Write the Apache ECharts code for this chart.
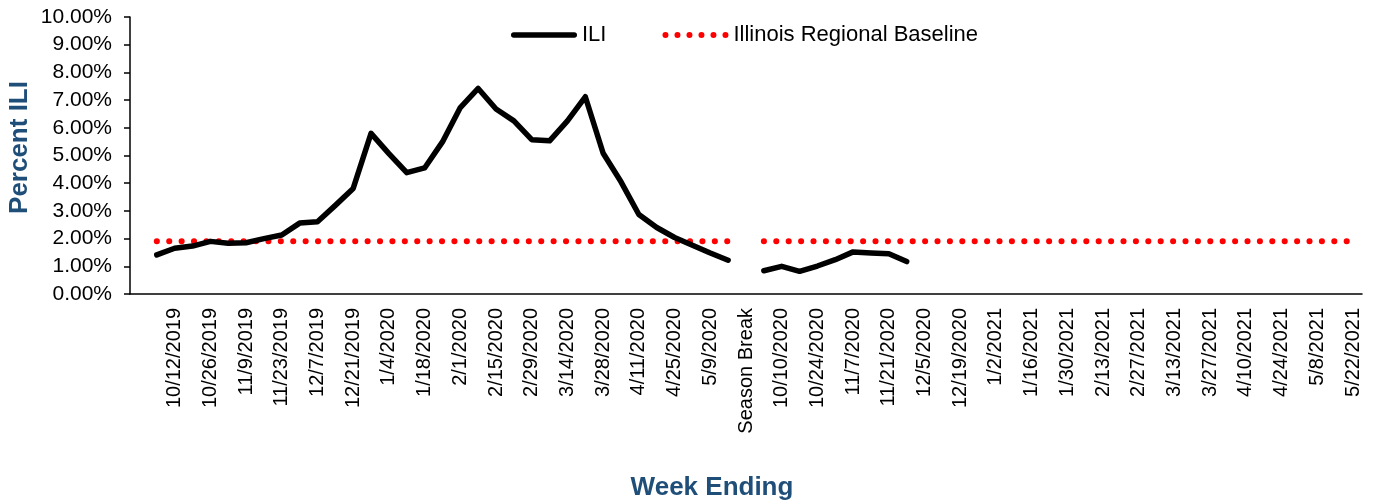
<!DOCTYPE html>
<html>
<head>
<meta charset="utf-8">
<title>Percent ILI</title>
<script src="https://cdn.jsdelivr.net/npm/echarts@6/dist/echarts.min.js"></script>
<style>
  html, body { margin: 0; padding: 0; background: #fff; }
  #chart { width: 1377px; height: 501px; }
</style>
</head>
<body>
<div id="chart"></div>
<script>
// week ending dates, first slot is an empty spacer category
const weeks = [
  '',
  '10/5/2019', '10/12/2019', '10/19/2019', '10/26/2019', '11/2/2019', '11/9/2019', '11/16/2019',
  '11/23/2019', '11/30/2019', '12/7/2019', '12/14/2019', '12/21/2019', '12/28/2019', '1/4/2020',
  '1/11/2020', '1/18/2020', '1/25/2020', '2/1/2020', '2/8/2020', '2/15/2020', '2/22/2020',
  '2/29/2020', '3/7/2020', '3/14/2020', '3/21/2020', '3/28/2020', '4/4/2020', '4/11/2020',
  '4/18/2020', '4/25/2020', '5/2/2020', '5/9/2020', '5/16/2020',
  'Season Break',
  '10/3/2020', '10/10/2020', '10/17/2020', '10/24/2020', '10/31/2020', '11/7/2020', '11/14/2020',
  '11/21/2020', '11/28/2020', '12/5/2020', '12/12/2020', '12/19/2020', '12/26/2020', '1/2/2021',
  '1/9/2021', '1/16/2021', '1/23/2021', '1/30/2021', '2/6/2021', '2/13/2021', '2/20/2021',
  '2/27/2021', '3/6/2021', '3/13/2021', '3/20/2021', '3/27/2021', '4/3/2021', '4/10/2021',
  '4/17/2021', '4/24/2021', '5/1/2021', '5/8/2021', '5/15/2021', '5/22/2021',
]

// percent ILI
const ili = [
  null,
  1.41, 1.65, 1.73, 1.90, 1.83, 1.85, 2.00, 2.13, 2.56, 2.61, 3.20,
  3.81, 5.80, 5.07, 4.38, 4.55, 5.49, 6.73, 7.42, 6.68, 6.25, 5.57,
  5.53, 6.25, 7.12, 5.08, 4.05, 2.87, 2.40, 2.04, 1.76, 1.48, 1.22,
  null,
  0.84, 1.00, 0.82, 1.01, 1.24, 1.52, 1.48, 1.45, 1.17,
  null, null, null, null, null, null, null, null, null, null, null, null, null,
  null, null, null, null, null, null, null, null, null, null, null, null,
]

// Illinois regional baseline
const baseline = [
  null,
  1.9, 1.9, 1.9, 1.9, 1.9, 1.9, 1.9, 1.9, 1.9, 1.9, 1.9,
  1.9, 1.9, 1.9, 1.9, 1.9, 1.9, 1.9, 1.9, 1.9, 1.9, 1.9,
  1.9, 1.9, 1.9, 1.9, 1.9, 1.9, 1.9, 1.9, 1.9, 1.9, 1.9,
  null,
  1.9, 1.9, 1.9, 1.9, 1.9, 1.9, 1.9, 1.9, 1.9, 1.9, 1.9, 1.9,
  1.9, 1.9, 1.9, 1.9, 1.9, 1.9, 1.9, 1.9, 1.9, 1.9, 1.9, 1.9,
  1.9, 1.9, 1.9, 1.9, 1.9, 1.9, 1.9, 1.9, 1.9, 1.9,
]

const font = 'Liberation Sans, Arial, sans-serif'
const titleBlue = '#1F4E79'

// legend icons: a thick bar and a row of six dots
const lineIcon = 'path://M2.75,0 L63.25,0 A2.75,2.75 0 0 1 63.25,5.5 L2.75,5.5 A2.75,2.75 0 0 1 2.75,0 Z'
const dotIcon = 'path://' + [0, 1, 2, 3, 4, 5].map((k) => {
  const cx = 2.9 + k * 11.6
  return `M${cx - 2.9},2.9 A2.9,2.9 0 1 0 ${cx + 2.9},2.9 A2.9,2.9 0 1 0 ${cx - 2.9},2.9 Z`
}).join(' ')

const chart = echarts.init(document.getElementById('chart'))

chart.setOption({
  animation: false,
  backgroundColor: '#fff',
  textStyle: { fontFamily: font, color: '#000' },
  legend: {
    left: 506,
    top: 19,
    itemWidth: 66,
    itemHeight: 14,
    itemGap: 56,
    textStyle: { fontSize: 22, color: '#000', fontFamily: font },
    data: [
      { name: 'ILI', icon: lineIcon },
      { name: 'Illinois Regional Baseline', icon: dotIcon },
    ],
  },
  grid: { left: 130, right: 15, top: 17, bottom: 207, outerBoundsMode: 'none' },
  xAxis: {
    type: 'category',
    data: weeks,
    boundaryGap: true,
    name: 'Week Ending',
    nameLocation: 'middle',
    nameGap: 181,
    nameTextStyle: {
      fontSize: 26, fontWeight: 'bold', color: titleBlue, fontFamily: font,
      padding: [0, 68, 0, 0],
    },
    axisLine: { lineStyle: { color: '#000', width: 1.5 } },
    axisTick: { show: false },
    axisLabel: {
      interval: 1,
      rotate: 90,
      margin: 14,
      fontSize: 20,
      color: '#000',
      fontFamily: font,
    },
    splitLine: { show: false },
  },
  yAxis: {
    type: 'value',
    min: 0,
    max: 10,
    interval: 1,
    name: 'Percent ILI',
    nameLocation: 'middle',
    nameGap: 97,
    nameMoveOverlap: false,
    nameTextStyle: {
      fontSize: 26, fontWeight: 'bold', color: titleBlue, fontFamily: font,
      padding: [0, 0, 0, 16],
    },
    axisLine: { show: true, lineStyle: { color: '#000', width: 1.5 } },
    axisTick: { show: true, length: 6, lineStyle: { color: '#000', width: 1.5 } },
    axisLabel: {
      margin: 18,
      fontSize: 21,
      color: '#000',
      fontFamily: font,
      formatter: (v) => v.toFixed(2) + '%',
    },
    splitLine: { show: false },
  },
  series: [
    {
      name: 'ILI',
      type: 'line',
      data: ili,
      symbol: 'none',
      connectNulls: false,
      lineStyle: { color: '#000', width: 5.5, cap: 'round', join: 'round' },
      itemStyle: { color: '#000' },
      z: 3,
    },
    {
      name: 'Illinois Regional Baseline',
      type: 'line',
      data: baseline,
      symbol: 'none',
      connectNulls: false,
      lineStyle: { color: '#ff0000', width: 6, type: [0.1, 12.3], cap: 'round' },
      itemStyle: { color: '#ff0000' },
      z: 2,
    },
  ],
})
</script>
</body>
</html>
